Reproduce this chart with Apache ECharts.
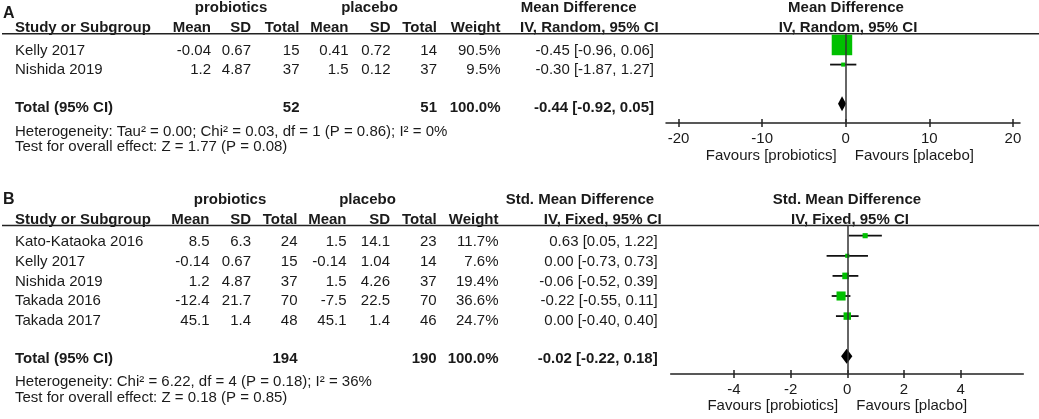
<!DOCTYPE html>
<html><head><meta charset="utf-8">
<script src="https://cdn.jsdelivr.net/npm/echarts@6/dist/echarts.min.js"></script>
<style>html,body{margin:0;padding:0;background:#fff}#c{width:1039px;height:419px}</style>
</head><body><div id="c"></div>
<script>
// ---------- Panel A data ----------
const studiesA = ['Kelly 2017', 'Nishida 2019'];
const probMeanA = [-0.04, 1.2];
const probSdA = [0.67, 4.87];
const probNA = [15, 37];
const placMeanA = [0.41, 1.5];
const placSdA = [0.72, 0.12];
const placNA = [14, 37];
const weightA = [90.5, 9.5];
const estA = [-0.45, -0.30];
const loA = [-0.96, -1.87];
const hiA = [0.06, 1.27];
const totalNA = [52, 51];
const totalCIA = [-0.44, -0.92, 0.05];
const hetA = 'Heterogeneity: Tau² = 0.00; Chi² = 0.03, df = 1 (P = 0.86); I² = 0%';
const testA = 'Test for overall effect: Z = 1.77 (P = 0.08)';
const ticksA = [-20, -10, 0, 10, 20];

// ---------- Panel B data ----------
const studiesB = ['Kato-Kataoka 2016', 'Kelly 2017', 'Nishida 2019', 'Takada 2016', 'Takada 2017'];
const probMeanB = [8.5, -0.14, 1.2, -12.4, 45.1];
const probSdB = [6.3, 0.67, 4.87, 21.7, 1.4];
const probNB = [24, 15, 37, 70, 48];
const placMeanB = [1.5, -0.14, 1.5, -7.5, 45.1];
const placSdB = [14.1, 1.04, 4.26, 22.5, 1.4];
const placNB = [23, 14, 37, 70, 46];
const weightB = [11.7, 7.6, 19.4, 36.6, 24.7];
const estB = [0.63, 0.00, -0.06, -0.22, 0.00];
const loB = [0.05, -0.73, -0.52, -0.55, -0.40];
const hiB = [1.22, 0.73, 0.39, 0.11, 0.40];
const totalNB = [194, 190];
const totalCIB = [-0.02, -0.22, 0.18];
const hetB = 'Heterogeneity: Chi² = 6.22, df = 4 (P = 0.18); I² = 36%';
const testB = 'Test for overall effect: Z = 0.18 (P = 0.85)';
const ticksB = [-4, -2, 0, 2, 4];

const FF = '"Liberation Sans", Arial, sans-serif';
const TXT = '#1a1a1a';
const GREEN = '#00c000';
const FS = 15;

const chart = echarts.init(document.getElementById('c'), null, {renderer: 'canvas'});

function ciText(e, l, h) { return e.toFixed(2) + ' [' + l.toFixed(2) + ', ' + h.toFixed(2) + ']'; }
const sizeA = w => 0.8 * Math.pow(w, 0.72);
const sizeB = w => 1.5 * Math.sqrt(w);

function ciSeries(ax, lo, hi) {
  return {
    type: 'custom', xAxisIndex: ax * 2, yAxisIndex: ax, z: 2, silent: true,
    data: lo.map((l, i) => [l, hi[i], i]),
    encode: {x: [0, 1], y: 2},
    renderItem: (params, api) => {
      const p1 = api.coord([api.value(0), api.value(2)]);
      const p2 = api.coord([api.value(1), api.value(2)]);
      return {type: 'line', shape: {x1: p1[0], y1: p1[1], x2: p2[0], y2: p2[1]},
        style: {stroke: '#111', lineWidth: 1.8}};
    },
    markLine: {silent: true, symbol: 'none', label: {show: false},
      lineStyle: {color: '#333', width: 1.5, type: 'solid'}, data: [{xAxis: 0}]}
  };
}
function sqSeries(ax, est, w, sizeFn) {
  return {type: 'scatter', xAxisIndex: ax * 2, yAxisIndex: ax, z: 3, silent: true,
    symbol: 'rect', data: est.map((e, i) => [e, i, w[i]]),
    symbolSize: v => sizeFn(v[2]), itemStyle: {color: GREEN, opacity: 1}};
}
function diamondSeries(ax, ci, row) {
  return {type: 'custom', xAxisIndex: ax * 2, yAxisIndex: ax, z: 4, silent: true,
    data: [[ci[0], ci[1], ci[2], row]], encode: {x: [0, 1, 2], y: 3},
    renderItem: (params, api) => {
      const r = api.value(3);
      const c = api.coord([api.value(0), r]);
      const l = api.coord([api.value(1), r]);
      const h = api.coord([api.value(2), r]);
      const hh = 7.5;
      return {type: 'polygon', shape: {points: [[l[0], c[1]], [c[0], c[1] - hh], [h[0], c[1]], [c[0], c[1] + hh]]},
        style: {fill: '#000'}};
    }};
}
function xAxes(grid, min, max, ticks) {
  return [
    {type: 'value', gridIndex: grid, min, max, position: 'bottom',
      axisLine: {show: true, onZero: false, lineStyle: {color: '#222', width: 1.5}},
      axisTick: {show: true, customValues: ticks, length: 4, lineStyle: {color: '#222', width: 1.5}},
      axisLabel: {show: true, customValues: ticks, margin: 8, fontSize: FS, color: TXT, fontFamily: FF},
      splitLine: {show: false}},
    {type: 'value', gridIndex: grid, min, max, position: 'bottom',
      axisLine: {show: false, onZero: false},
      axisTick: {show: true, inside: true, customValues: ticks, length: 4, lineStyle: {color: '#222', width: 1.5}},
      axisLabel: {show: false}, splitLine: {show: false}}
  ];
}
function yAxis(grid, min, max) {
  return {type: 'value', gridIndex: grid, inverse: true, min, max, show: false,
    axisLine: {show: false, onZero: false}, axisTick: {show: false}, axisLabel: {show: false}, splitLine: {show: false}};
}

chart.setOption({
  animation: false,
  backgroundColor: '#fff',
  grid: [
    {left: 666, top: 34, width: 354, height: 89},
    {left: 670.7, top: 225.5, width: 352.6, height: 148.5}
  ],
  xAxis: [].concat(xAxes(0, -21.5, 20.85, ticksA), xAxes(1, -6.23, 6.21, ticksB)),
  yAxis: [yAxis(0, -0.56, 3.98), yAxis(1, -0.507, 6.88)],
  series: [
    ciSeries(0, loA, hiA), sqSeries(0, estA, weightA, sizeA), diamondSeries(0, totalCIA, 3),
    ciSeries(1, loB, hiB), sqSeries(1, estB, weightB, sizeB), diamondSeries(1, totalCIB, 6)
  ]
});

// ---------- table text ----------
const els = [];
function t(x, y, text, align, bold, size) {
  els.push({type: 'text', x: x, y: y, silent: true,
    style: {text: String(text), x: 0, y: 0, textAlign: align || 'left', align: align || 'left',
      textVerticalAlign: 'middle', verticalAlign: 'middle',
      font: (bold ? 'bold ' : '') + (size || FS) + 'px ' + FF, fill: TXT}});
}
function hline(y) {
  els.push({type: 'line', silent: true, shape: {x1: 2, y1: y, x2: 1039, y2: y},
    style: {stroke: '#222', lineWidth: 1.5}});
}

function panel(o) {
  const c = o.cols;
  t(3, o.yLetter, o.letter, 'left', true, 16);
  t(o.probX, o.yGroup, 'probiotics', 'center', true);
  t(o.placX, o.yGroup, 'placebo', 'center', true);
  t(15, o.yHead, 'Study or Subgroup', 'left', true);
  ['Mean', 'SD', 'Total', 'Mean', 'SD', 'Total', 'Weight'].forEach((h, i) => t(c[i], o.yHead, h, 'right', true));
  t(o.lh1x, o.yGroup, o.lh1, o.lh1a, true);
  t(o.lh2x, o.yHead, o.lh2, o.lh2a, true);
  t(o.rhx, o.yGroup, o.lh1, 'center', true);
  t(o.rhx2, o.yHead, o.lh2, 'center', true);
  hline(o.yLine);
  o.studies.forEach((s, i) => {
    const y = o.yRow0 + i * o.step;
    t(15, y, s, 'left');
    [o.pm[i], o.psd[i], o.pn[i], o.cm[i], o.csd[i], o.cn[i], o.w[i].toFixed(1) + '%']
      .forEach((v, k) => t(c[k], y, v, 'right'));
    t(o.ciX, y, ciText(o.est[i], o.lo[i], o.hi[i]), 'right');
  });
  t(15, o.yTot, 'Total (95% CI)', 'left', true);
  t(c[2], o.yTot, o.tn[0], 'right', true);
  t(c[5], o.yTot, o.tn[1], 'right', true);
  t(c[6], o.yTot, '100.0%', 'right', true);
  t(o.ciX, o.yTot, ciText(o.tci[0], o.tci[1], o.tci[2]), 'right', true);
  t(15, o.yHet, o.het, 'left');
  t(15, o.yTest, o.test, 'left');
  const z = chart.convertToPixel({xAxisIndex: o.ax}, 0);
  t(z - 9, o.yFav, 'Favours [probiotics]', 'right');
  t(z + 9, o.yFav, o.favR, 'left');
}

panel({ax: 0, letter: 'A', yLetter: 13.5, yGroup: 8.3, yHead: 28.3, yLine: 33.8,
  probX: 231, placX: 369.5, cols: [211, 251, 299.5, 348.5, 390.5, 437, 500.5],
  lh1: 'Mean Difference', lh1x: 520.7, lh1a: 'left', lh2: 'IV, Random, 95% CI', lh2x: 520, lh2a: 'left',
  rhx: 846, rhx2: 848, ciX: 654,
  studies: studiesA, pm: probMeanA, psd: probSdA, pn: probNA, cm: placMeanA, csd: placSdA, cn: placNA,
  w: weightA, est: estA, lo: loA, hi: hiA, yRow0: 50.5, step: 19.4, yTot: 108.3,
  tn: totalNA, tci: totalCIA, het: hetA, test: testA, yHet: 131.7, yTest: 147.3,
  yFav: 155.5, favR: 'Favours [placebo]'});

panel({ax: 2, letter: 'B', yLetter: 200, yGroup: 200, yHead: 220, yLine: 225.5,
  probX: 230, placX: 367.5, cols: [209.5, 251, 297.5, 346.5, 390, 436.7, 498.5],
  lh1: 'Std. Mean Difference', lh1x: 505.7, lh1a: 'left', lh2: 'IV, Fixed, 95% CI', lh2x: 661.7, lh2a: 'right',
  rhx: 847, rhx2: 850, ciX: 657.7,
  studies: studiesB, pm: probMeanB, psd: probSdB, pn: probNB, cm: placMeanB, csd: placSdB, cn: placNB,
  w: weightB, est: estB, lo: loB, hi: hiB, yRow0: 241.7, step: 19.85, yTot: 359.3,
  tn: totalNB, tci: totalCIB, het: hetB, test: testB, yHet: 381.7, yTest: 398.3,
  yFav: 405.5, favR: 'Favours [placbo]'});

chart.setOption({graphic: {elements: els}});
</script>
</body></html>
